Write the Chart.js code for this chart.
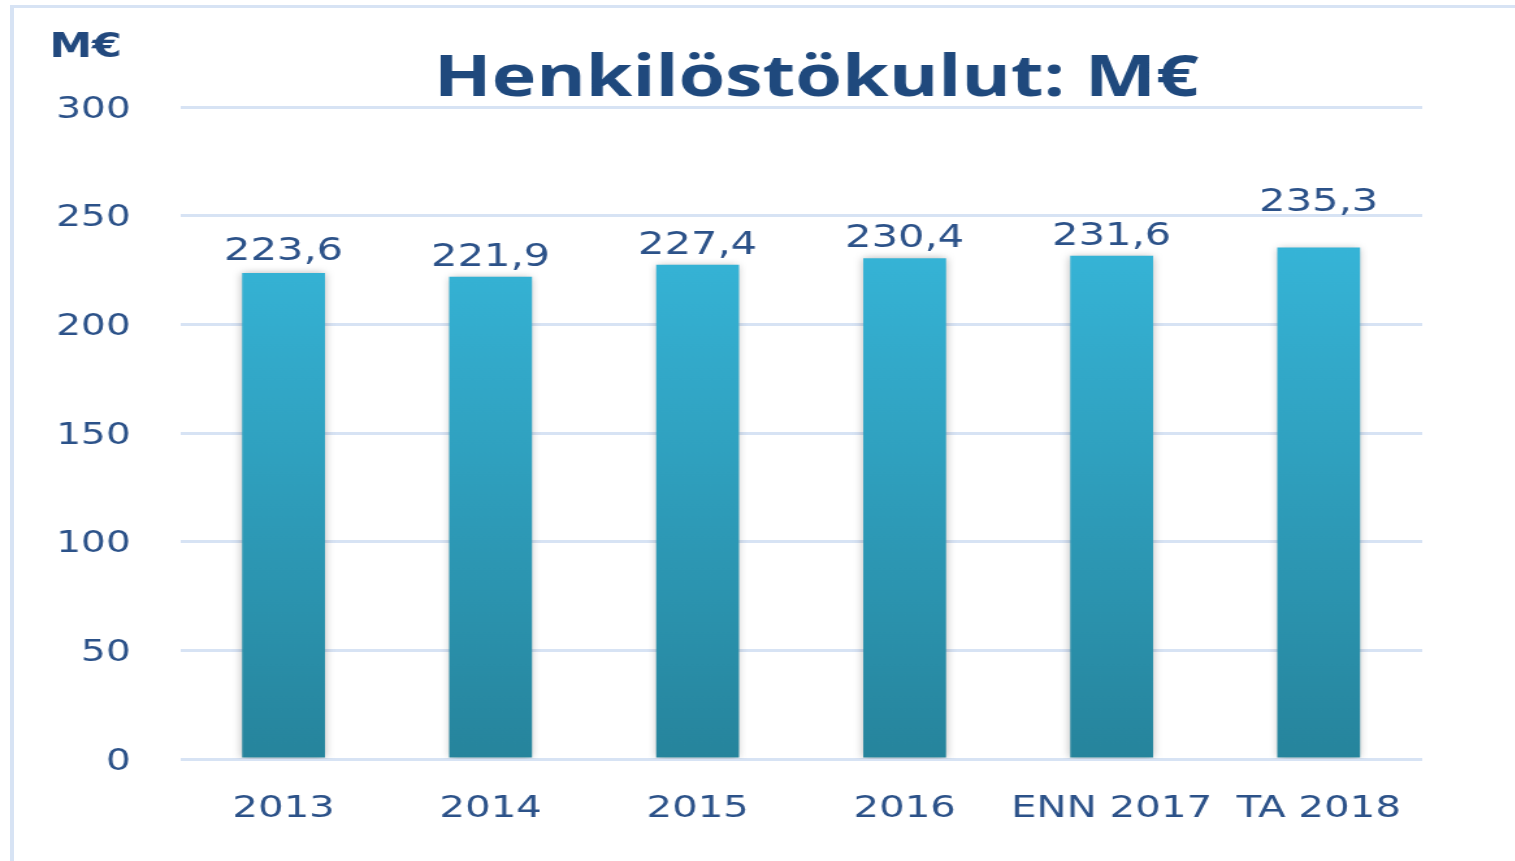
<!DOCTYPE html>
<html>
<head>
<meta charset="utf-8">
<script src="https://cdn.jsdelivr.net/npm/chart.js@4.4.1/dist/chart.umd.min.js"></script>
<style>
  html, body { margin: 0; padding: 0; background: #fff; overflow: hidden; }
  #frame {
    position: absolute; left: 10px; top: 5px; right: 0; bottom: 0;
    border-left: 4px solid #d7e3f4; border-top: 3px solid #d7e3f4;
  }
  #wrap {
    position: absolute; left: 0; top: 0;
    width: 1165px; height: 861px;
    transform: scaleX(1.3); transform-origin: 0 0;
  }
</style>
</head>
<body>
<div id="frame"></div>
<div id="wrap"><canvas id="kulut"></canvas></div>
<script>
// values (M€)
const years = ["2013", "2014", "2015", "2016", "ENN 2017", "TA 2018"];
const costs = [223.6, 221.9, 227.4, 230.4, 231.6, 235.3];
const yTicks = [0, 50, 100, 150, 200, 250, 300];
// how far each value label sits above its bar
const labelLift = [13, 11, 11, 11, 11, 37];

const textColor = "#2c5289";
const fmt = v => v.toFixed(1).replace(".", ",");

const barGradient = (ctx) => {
  const chart = ctx.chart;
  const area = chart.chartArea;
  if (!area) return "#30a5c4";
  const y = chart.scales.y;
  const g = chart.ctx.createLinearGradient(0, y.getPixelForValue(240), 0, y.getPixelForValue(0));
  g.addColorStop(0, "#36b5d8");
  g.addColorStop(1, "#26849c");
  return g;
};

const decor = {
  id: "decor",
  beforeDatasetsDraw(chart) {
    const c = chart.ctx;
    c.save();
    c.shadowColor = "rgba(0,0,0,0.28)";
    c.shadowBlur = 7;
    c.shadowOffsetX = 0;
  },
  afterDatasetsDraw(chart) {
    const c = chart.ctx;
    c.restore();
    c.save();
    // value labels
    c.fillStyle = textColor;
    c.font = "32px 'DejaVu Sans'";
    c.textAlign = "center";
    c.textBaseline = "alphabetic";
    chart.getDatasetMeta(0).data.forEach((bar, i) => {
      c.fillText(fmt(costs[i]), bar.x, bar.y - labelLift[i]);
    });
    // title and unit
    c.fillStyle = "#1f497d";
    c.font = "bold 58px 'Open Sans'";
    c.fillText("Henkilöstökulut: M€", 628, 96);
    c.textAlign = "left";
    c.fillStyle = "#22497e";
    c.font = "bold 33px 'DejaVu Sans'";
    c.fillText("M€", 38, 57);
    c.restore();
  }
};

new Chart(document.getElementById("kulut"), {
  type: "bar",
  data: {
    labels: years,
    datasets: [{
      data: costs,
      backgroundColor: barGradient,
      borderWidth: 0,
      barPercentage: 0.4,
      categoryPercentage: 1
    }]
  },
  options: {
    responsive: true,
    maintainAspectRatio: false,
    animation: false,
    layout: { padding: { left: 0, right: 71, top: 107, bottom: 0 } },
    plugins: { legend: { display: false }, tooltip: { enabled: false } },
    scales: {
      x: {
        grid: { display: false },
        border: { display: false },
        ticks: {
          color: textColor, font: { family: "DejaVu Sans", size: 31 }, padding: 23,
          autoSkip: false, maxRotation: 0, minRotation: 0
        },
        afterFit: s => { s.height = 102; }
      },
      y: {
        min: 0, max: 300,
        afterBuildTicks: s => { s.ticks = yTicks.map(v => ({ value: v })); },
        grid: { color: "#d7e3f4", lineWidth: 3, drawTicks: false },
        border: { display: false },
        ticks: { color: textColor, font: { family: "DejaVu Sans", size: 30 }, padding: 38, labelOffset: 3 },
        afterFit: s => { s.width = 138.5; }
      }
    }
  },
  plugins: [decor]
});
</script>
</body>
</html>
